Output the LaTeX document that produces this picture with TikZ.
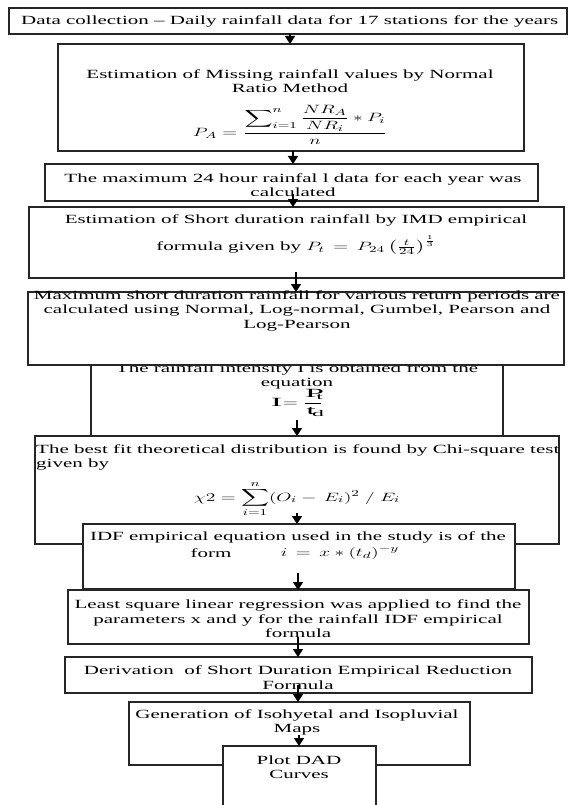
\documentclass[tikz,border=0pt]{standalone}
\usepackage{graphicx}
\usepackage{amsmath}
\usepackage{fontspec}
\setmainfont{Liberation Serif}[FakeStretch=1.68]
\usetikzlibrary{arrows.meta}
\newcommand{\sx}[1]{\scalebox{1.62}[1]{#1}}
\begin{document}
\begin{tikzpicture}[x=1pt,y=-1pt,
  box/.style={draw=black!85, line width=1.4pt, fill=white, anchor=north west, inner sep=0pt, outer sep=0pt},
  txt/.style={font=\fontsize{12.5}{14.5}\selectfont, align=center, inner sep=0pt, text=black},
  arr/.style={line width=1.6pt, draw=black, -{Triangle[width=10pt,length=8pt]}}]
\useasboundingbox[fill=white] (0,0) rectangle (569,805);
\clip (0,0) rectangle (569,805);
% box 1
\node[box, minimum width=558pt, minimum height=26pt] (b1) at (9,8) {};
\node[txt, anchor=west] (t1) at (21,21) {Data collection -- Daily rainfall data for 17 stations for the years};
% box 2
\node[box, minimum width=466pt, minimum height=107pt] (b2) at (58,44) {};
\node[txt] (t2) at (290,81) {Estimation of Missing rainfall values by Normal\\Ratio Method};
\node[txt] (f2) at (290,125) {\sx{$P_A=\dfrac{\displaystyle\sum\nolimits_{i=1}^{n}\frac{NR_A}{NR_i}*P_i}{n}$}};
% box 3
\node[box, minimum width=493pt, minimum height=37pt] (b3) at (45,164) {};
\begin{scope}
\clip (45,164) rectangle (538,195);
\node[txt] (t3) at (293,185) {The maximum 24 hour rainfal l data for each year was\\calculated};
\end{scope}
% box 4
\node[box, minimum width=535pt, minimum height=71pt] (b4) at (29,207) {};
\node[txt] (t4) at (296,220) {Estimation of Short duration rainfall by IMD empirical};
\node[txt] (f4) at (296,245) {formula given by \sx{$P_t\,=\,P_{24}\left(\frac{t}{24}\right)^{\frac{1}{3}}$}};
% box 6 (behind box 5)
\node[box, minimum width=412pt, minimum height=96pt] (b6) at (91,340) {};
\node[txt] (t6) at (297,376.5) {The rainfall intensity I is obtained from the\\equation};
\node[txt] (f6) at (297,403) {\sx{$\mathrm{I}=\dfrac{\mathrm{P}_{\mathrm{t}}}{\mathrm{t}_{\mathrm{d}}}$}};
% box 5
\node[box, minimum width=536pt, minimum height=73pt] (b5) at (28,292) {};
\node[txt] (t5) at (297,310.5) {Maximum short duration rainfall for various return periods are\\calculated using Normal, Log-normal, Gumbel, Pearson and\\Log-Pearson};
% box 7
\node[box, minimum width=524pt, minimum height=108pt] (b7) at (35,436) {};
\node[txt, anchor=west, align=left] (t7) at (36,457.5) {The best fit theoretical distribution is found by Chi-square test\\given by};
\node[txt] (f7) at (297,499) {\sx{$\chi 2=\displaystyle\sum_{i=1}^{n}(O_i-\,E_i)^2\;/\;E_i$}};
% box 8
\node[box, minimum width=432pt, minimum height=65pt] (b8) at (83,524) {};
\node[txt] (t8) at (298,537) {IDF empirical equation used in the study is of the};
\node[txt] (t8b) at (211,553) {form};
\node[txt] (f8) at (340,553) {\sx{$i\,=\,x*(t_d)^{-y}$}};
% box 9
\node[box, minimum width=461pt, minimum height=54pt] (b9) at (68,590) {};
\node[txt] (t9) at (298,619) {Least square linear regression was applied to find the\\parameters x and y for the rainfall IDF empirical\\formula};
% box 10
\node[box, minimum width=467pt, minimum height=36pt] (b10) at (65,657) {};
\begin{scope}
\clip (65,657) rectangle (532,690);
\node[txt] (t10) at (298,677.5) {Derivation\ \ of Short Duration Empirical Reduction\\Formula};
\end{scope}
% box 11
\node[box, minimum width=341pt, minimum height=63pt] (b11) at (129,702) {};
\node[txt] (t11) at (297,722.5) {Generation of Isohyetal and Isopluvial\\Maps};
% box 12
\node[box, minimum width=153pt, minimum height=90pt] (b12) at (223,746) {};
\node[txt] (t12) at (299,767) {Plot DAD\\Curves};
% arrow start points
\coordinate (s1) at (290,34);
\coordinate (s2) at (293,151);
\coordinate (s3) at (293,194);
\coordinate (s4) at (296,272);
\coordinate (s5) at (297,420);
\coordinate (s6) at (297,513);
\coordinate (s7) at (298,573);
\coordinate (s8) at (298,637);
\coordinate (s9) at (298,685);
\coordinate (s10) at (299,735);
% arrows
\draw[arr] (s1) -- (s1 |- b2.north);
\draw[arr] (s2) -- (s2 |- b3.north);
\draw[arr] (s3) -- (s3 |- b4.north);
\draw[arr] (s4) -- (s4 |- b5.north);
\draw[arr] (s5) -- (s5 |- b7.north);
\draw[arr] (s6) -- (s6 |- b8.north);
\draw[arr] (s7) -- (s7 |- b9.north);
\draw[arr] (s8) -- (s8 |- b10.north);
\draw[arr] (s9) -- (s9 |- b11.north);
\draw[arr] (s10) -- (s10 |- b12.north);
\end{tikzpicture}
\end{document}
